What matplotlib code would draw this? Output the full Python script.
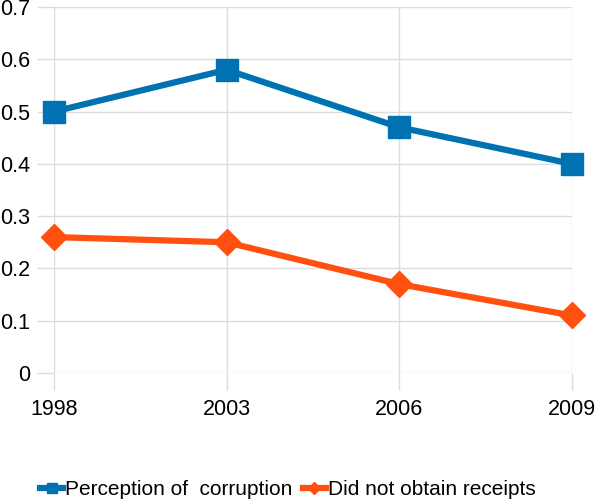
import numpy as np
import matplotlib
matplotlib.use("Agg")
import matplotlib.pyplot as plt

years = ["1998", "2003", "2006", "2009"]
perception = [0.50, 0.58, 0.47, 0.40]
no_receipts = [0.26, 0.25, 0.17, 0.11]

plt.rcParams["font.family"] = ["Liberation Sans", "DejaVu Sans"]

fig = plt.figure(figsize=(6.0, 5.04), dpi=100)
ax = fig.add_axes([0.09, 0.26, 0.863, 0.726])

x = np.arange(len(years))
ax.plot(x, perception, color="#0072B2", lw=4.5, marker="s", ms=16,
        label="Perception of  corruption", zorder=3, clip_on=False)
ax.plot(x, no_receipts, color="#FF5010", lw=4.5, marker="D", ms=13,
        label="Did not obtain receipts", zorder=3, clip_on=False)

ax.set_xlim(0, len(years) - 1)
ax.set_ylim(0, 0.7)
ax.set_xticks(x)
ax.set_xticklabels(years)
ax.set_yticks(np.arange(0, 0.71, 0.1))
ax.set_yticklabels(["0", "0.1", "0.2", "0.3", "0.4", "0.5", "0.6", "0.7"])

grid_col = "#dcdcdc"
ax.grid(True, color=grid_col, lw=1)
for s in ax.spines.values():
    s.set_visible(False)
ax.tick_params(axis="both", length=12, color=grid_col, width=1, labelsize=15.5)
ax.tick_params(axis="x", pad=7)
ax.tick_params(axis="y", pad=5)

fig.legend(loc="lower center", bbox_to_anchor=(0.48, -0.028), ncol=2, frameon=False,
           fontsize=15, handlelength=1.1, handletextpad=0.1, columnspacing=0.5,
           markerscale=0.45)

fig.savefig("out.png", dpi=100)
